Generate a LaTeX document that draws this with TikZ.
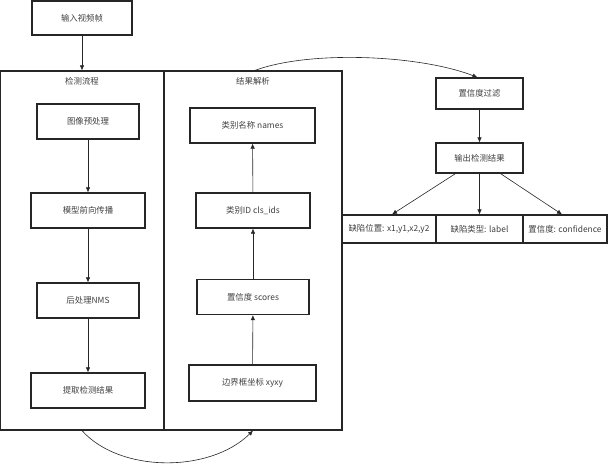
\documentclass[tikz,border=0pt]{standalone}
\usepackage{fontspec}
\setmainfont{Noto Sans CJK SC}
\usetikzlibrary{arrows.meta}

\begin{document}
\begin{tikzpicture}[x=1pt, y=-1pt,
  box/.style={draw=black!85, line width=1.2pt, inner sep=0pt, minimum height=35pt, text=black!75, font=\fontsize{8.4}{10}\selectfont},
  panel/.style={draw=black!85, line width=1.2pt, inner sep=0pt, minimum width=#1, minimum height=359pt},
  title/.style={text=black!75, font=\fontsize{8.4}{10}\selectfont},
  arr/.style={-{Latex[length=5pt,width=4.5pt]}, black!85, line width=0.6pt}]
  \useasboundingbox (0,0) rectangle (609,463);
  \node[box, minimum width=100pt, minimum height=34pt] (input) at (82,18) {输入视频帧};
  \node[panel=164pt] (detect) at (82,250.5) {}; \node[title] (detecttitle) at (82,81) {检测流程};
  \node[panel=178pt] (parse) at (253,250.5) {}; \node[title] (parsetitle) at (253,81) {结果解析};
  \node[box, minimum width=102pt] (prep) at (88,121.5) {图像预处理};
  \node[box, minimum width=114pt] (fwd) at (88,210.5) {模型前向传播};
  \node[box, minimum width=102pt] (nms) at (88,300.5) {后处理NMS};
  \node[box, minimum width=114pt] (extract) at (88,390.5) {提取检测结果};
  \node[box, minimum width=125pt] (names) at (252.5,125.5) {类别名称 names};
  \node[box, minimum width=114pt] (clsids) at (253,210.5) {类别ID cls\_ids};
  \node[box, minimum width=112pt] (scores) at (253,297) {置信度 scores};
  \node[box, minimum width=127pt, minimum height=36pt] (bbox) at (252.5,383) {边界框坐标 xyxy};
  \node[box, minimum width=87pt, minimum height=31pt] (filter) at (479.5,93.5) {置信度过滤};
  \node[box, minimum width=87pt, minimum height=30pt] (output) at (479.5,158) {输出检测结果};
  \node[box, minimum width=94pt, minimum height=28pt] (pos) at (389,229) {缺陷位置: x1,y1,x2,y2};
  \node[box, minimum width=87pt, minimum height=28pt] (cls) at (479.5,229) {缺陷类型: label};
  \node[box, minimum width=84pt, minimum height=28pt] (conf) at (565,229) {置信度: confidence};
  \draw[arr] (input) -- (detect);
  \draw[arr] (prep) -- (fwd);
  \draw[arr] (fwd) -- (nms);
  \draw[arr] (nms) -- (extract);
  \draw[arr] (bbox) -- (scores);
  \draw[arr] (scores) -- (clsids);
  \draw[arr] (clsids) -- (names);
  \draw[arr] (filter) -- (output);
  \draw[arr] ([xshift=-24pt]output.south) -- ([xshift=3pt]pos.north);
  \draw[arr] (output) -- (cls);
  \draw[arr] ([xshift=21pt]output.south) -- ([xshift=-3pt]conf.north);
  \draw[arr] (detect.south) .. controls (120,473) and (210,473) .. (parse.south);
  \draw[arr] ([xshift=2pt]parse.north) .. controls (310,50) and (420,55) .. ([xshift=-2pt]filter.north);
\end{tikzpicture}
\end{document}
